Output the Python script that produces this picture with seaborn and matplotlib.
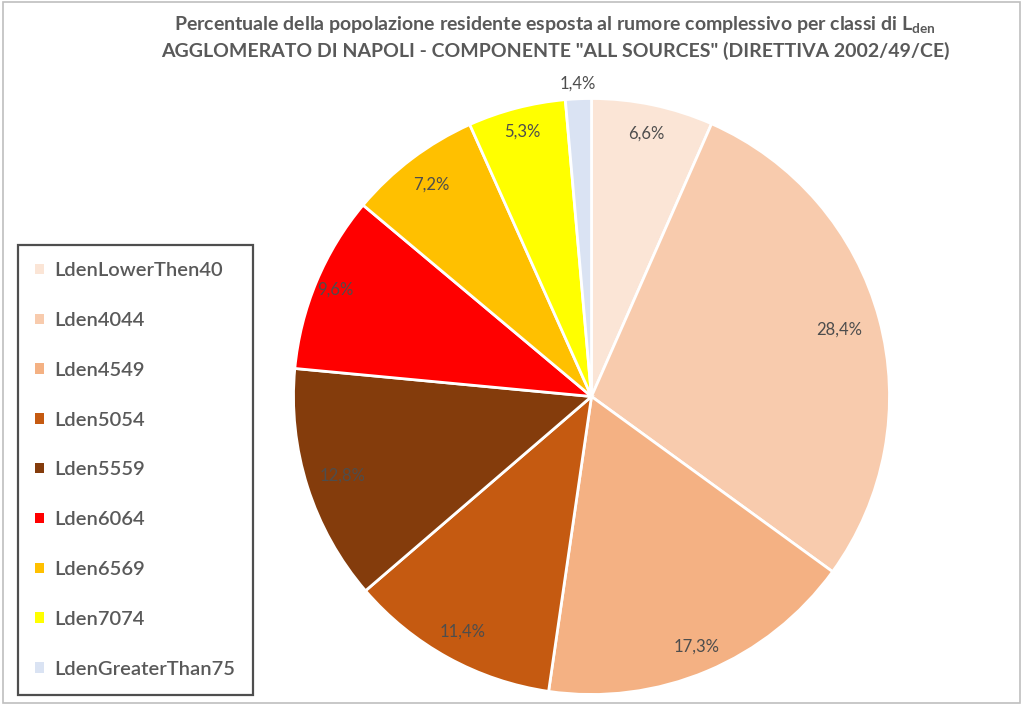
import numpy as np
import matplotlib
matplotlib.use("Agg")
import matplotlib.pyplot as plt
import seaborn as sns
from matplotlib.patches import Patch, Rectangle

categories = ["LdenLowerThen40", "Lden4044", "Lden4549", "Lden5054", "Lden5559",
              "Lden6064", "Lden6569", "Lden7074", "LdenGreaterThan75"]
values = [6.6, 28.4, 17.3, 11.4, 12.8, 9.6, 7.2, 5.3, 1.4]
labels = ["6,6%", "28,4%", "17,3%", "11,4%", "12,8%", "9,6%", "7,2%", "5,3%", "1,4%"]
colors = ["#FBE5D6", "#F8CBAD", "#F4B183", "#C55A11", "#843C0C",
          "#FF0000", "#FFC000", "#FFFF00", "#DAE3F3"]
label_r = [0.9, 0.86, 0.91, 0.9, 0.875, 0.93, 0.89, 0.92, 1.05]

sns.set_theme(style="white")
plt.rcParams["font.family"] = ["Lato", "DejaVu Sans"]
grey = "#595959"

fig = plt.figure(figsize=(10.23, 7.05), dpi=100)
fig.patch.set_facecolor("white")

cx, cy, r = 591.5, 396.5, 298
ax = fig.add_axes([(cx - r) / 1023, (705 - cy - r) / 705, 2 * r / 1023, 2 * r / 705])
wedges, _ = ax.pie(values, colors=colors, startangle=90, counterclock=False, radius=1,
                   wedgeprops=dict(edgecolor="white", linewidth=2))
ax.set_xlim(-1, 1)
ax.set_ylim(-1, 1)
for w, lab, rr in zip(wedges, labels, label_r):
    ang = np.deg2rad((w.theta1 + w.theta2) / 2)
    ax.text(rr * np.cos(ang), rr * np.sin(ang), lab, ha="center", va="center",
            fontsize=12, color="#4D4D4D")

fig.text(0.5425, 0.964, r"Percentuale della popolazione residente esposta al rumore complessivo per classi di L$_{\mathregular{den}}$",
         ha="center", va="center", fontsize=14, fontweight="bold", color=grey)
fig.text(0.5425, 0.928, 'AGGLOMERATO DI NAPOLI - COMPONENTE "ALL SOURCES" (DIRETTIVA 2002/49/CE)',
         ha="center", va="center", fontsize=14, fontweight="bold", color=grey)

handles = [Patch(facecolor=c, edgecolor="none") for c in colors]
leg = fig.legend(handles, categories, loc="upper left",
                 bbox_to_anchor=(18 / 1023, 1 - 245 / 705), frameon=True, fancybox=False,
                 fontsize=14.5, labelspacing=1.63, handlelength=0.42, handleheight=0.42,
                 handletextpad=0.55, borderpad=0.85, borderaxespad=0)
leg.get_frame().set_edgecolor("#222222")
leg.get_frame().set_linewidth(1.6)
for t in leg.get_texts():
    t.set_color(grey)
    t.set_fontweight("semibold")

fig.patches.append(Rectangle((0.003, 0.003), 0.994, 0.994, transform=fig.transFigure,
                             fill=False, edgecolor="#BFBFBF", linewidth=1.2))

fig.savefig("out.png", dpi=100)
